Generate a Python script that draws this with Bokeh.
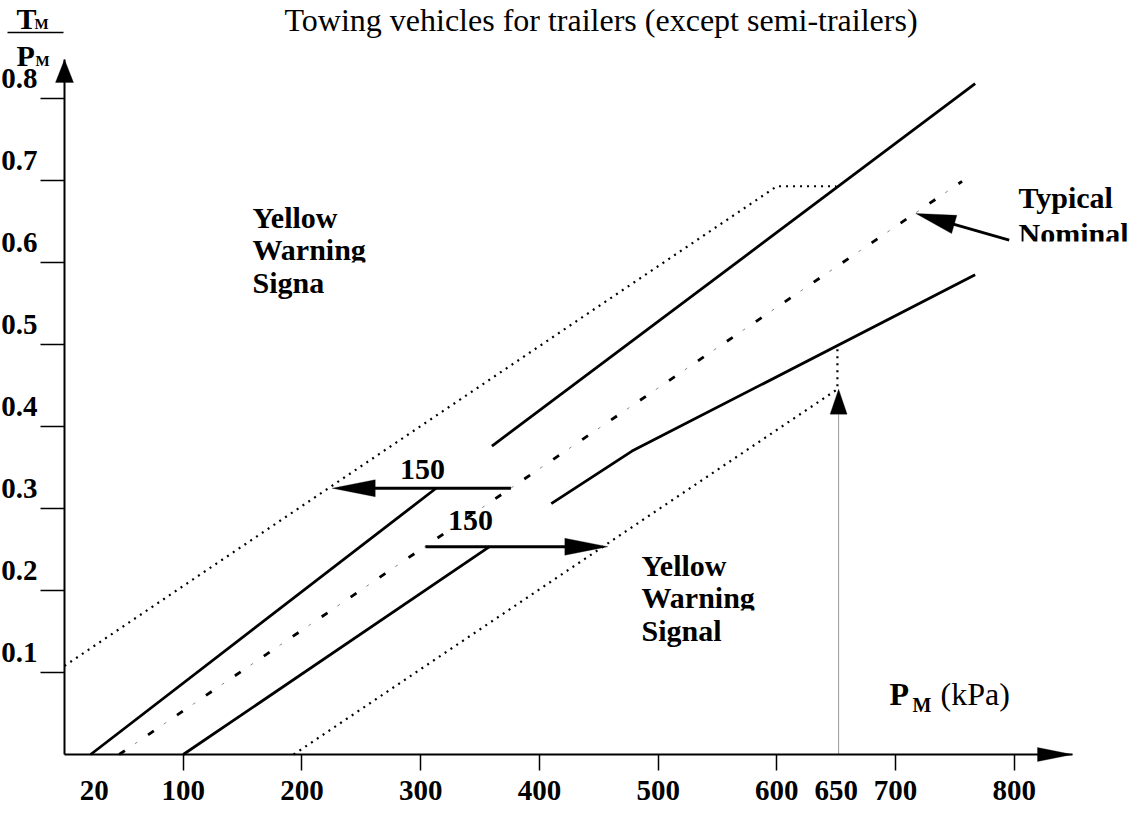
import math
from bokeh.plotting import figure
from bokeh.models import (Range1d, LinearAxis, FixedTicker, LabelSet,
                          ColumnDataSource, PolyAnnotation, BoxAnnotation, Arrow,
                          CustomLabelingPolicy)
from bokeh.core.properties import value
from bokeh.embed import file_html
from bokeh.resources import INLINE

# ---------------- data ----------------
x_ticks = [100, 200, 300, 400, 500, 600, 700, 800]
x_tick_labels = ["100", "200", "300", "400", "500", "600", "700", "800"]
x_extra_at = [25, 650]
x_extra_labels = ["20", "650"]
y_ticks = [0.1, 0.2, 0.3, 0.4, 0.5, 0.6, 0.7, 0.8]
y_label_texts = ["0.1", "0.2", "0.3", "0.4", "0.5", "0.6", "0.7", "0.8"]

upper_warn_x = [0, 600, 650]
upper_warn_y = [0.108, 0.693, 0.693]
upper_limit_a_x = [22, 313]
upper_limit_a_y = [0.0, 0.3247]
upper_limit_b_x = [360, 767]
upper_limit_b_y = [0.376, 0.818]
nominal_x = [46, 756]
nominal_y = [0.0, 0.699]
lower_limit_a_x = [100, 358]
lower_limit_a_y = [0.0, 0.2534]
lower_limit_b_x = [410, 478, 767]
lower_limit_b_y = [0.306, 0.370, 0.585]
lower_warn_x = [193, 651, 651]
lower_warn_y = [0.0, 0.4455, 0.499]

marker_x = 652
marker_top = 0.4455

shift_y = [0.3247, 0.2534]
shift_from = [376, 304]
shift_to = [225.5, 457.6]
shift_text = ["150", "150"]

nominal_arrow_tail = (795.7, 0.6272)
nominal_arrow_tip = (717.0, 0.6598)

title_text = "Towing vehicles for trailers (except semi-trailers)"

# ---------------- layout ----------------
W, H = 1130, 805
AX_X_END = 849.0          # x-axis arrow tip (kPa)
AX_Y_END = 0.84756        # y-axis arrow tip
KX = 1008.0 / AX_X_END    # px per kPa
KY = 820.0                # px per unit ratio
PX0, PY0 = 72.0, 762.0    # page position of the origin
XS, XE = (8 - PX0) / KX, (8 + W - PX0) / KX
YS, YE = (PY0 - 8 - H) / KY, (PY0 - 8) / KY


def dx(px):
    return (px - PX0) / KX


def dy(py):
    return (PY0 - py) / KY


def sx(v):
    return PX0 + v * KX


def sy(v):
    return PY0 - v * KY


p = figure(width=W, height=H, x_range=Range1d(XS, XE), y_range=Range1d(YS, YE),
           x_axis_type=None, y_axis_type=None, output_backend="svg",
           toolbar_location=None, min_border=0)
p.outline_line_color = None
p.background_fill_color = "white"
p.border_fill_color = "white"

FONT = "Liberation Serif"
no_labels = CustomLabelingPolicy(code="return []")

xax = LinearAxis(fixed_location=0, bounds=(0, AX_X_END), ticker=FixedTicker(ticks=x_ticks),
                 major_label_overrides=dict(zip(x_ticks, x_tick_labels)),
                 major_tick_out=16, major_tick_in=0, minor_tick_out=0, minor_tick_in=0,
                 major_label_standoff=10, major_label_text_font=FONT,
                 major_label_text_font_style="bold", major_label_text_font_size="29px",
                 major_label_text_color="black",
                 axis_line_width=2, axis_line_color="black",
                 major_tick_line_width=1.5, major_tick_line_color="black")
p.add_layout(xax, "below")
xax2 = LinearAxis(fixed_location=0, ticker=FixedTicker(ticks=x_extra_at),
                  major_label_overrides=dict(zip(x_extra_at, x_extra_labels)),
                  major_tick_out=16, major_tick_in=0, minor_tick_out=0, minor_tick_in=0,
                  major_label_standoff=10, major_label_text_font=FONT,
                  major_label_text_font_style="bold", major_label_text_font_size="29px",
                  major_label_text_color="black", axis_line_color=None,
                  major_tick_line_color=None)
p.add_layout(xax2, "below")
yax = LinearAxis(fixed_location=0, bounds=(0, AX_Y_END), ticker=FixedTicker(ticks=y_ticks),
                 major_label_policy=no_labels,
                 major_tick_out=24, major_tick_in=0, minor_tick_out=0, minor_tick_in=0,
                 axis_line_width=2, axis_line_color="black",
                 major_tick_line_width=1.5, major_tick_line_color="black")
p.add_layout(yax, "left")

# y tick labels (sit above their ticks in the original)
p.add_layout(LabelSet(x="x", y="y", text="text",
                      source=ColumnDataSource(dict(x=[0] * len(y_ticks), y=y_ticks,
                                                   text=y_label_texts)),
                      x_offset=-27, y_offset=11, text_align="right", text_baseline="alphabetic",
                      text_font=value(FONT), text_font_style="bold", text_font_size="29px",
                      text_color="black"))

# lines
solid = dict(line_color="black", line_width=2.8)
dotted = dict(line_color="black", line_width=2.2, line_dash="2 5")
p.line(upper_warn_x, upper_warn_y, **dotted)
p.line(lower_warn_x, lower_warn_y, **dotted)
p.line(upper_limit_a_x, upper_limit_a_y, **solid)
p.line(upper_limit_b_x, upper_limit_b_y, **solid)
p.line(lower_limit_a_x, lower_limit_a_y, **solid)
p.line(lower_limit_b_x, lower_limit_b_y, **solid)
p.line(nominal_x, nominal_y, line_color="black", line_width=2.8, line_dash="7 28")
p.line(nominal_x, nominal_y, line_color="#888888", line_width=1, line_dash="3 32",
       line_dash_offset=16)


def head(tip, tail, length, half):
    tx, ty = sx(tip[0]), sy(tip[1])
    ux, uy = sx(tail[0]) - tx, sy(tail[1]) - ty
    n = math.hypot(ux, uy)
    ux, uy = ux / n, uy / n
    bx, by = tx + ux * length, ty + uy * length
    nx, ny = -uy, ux
    pts = [(tx, ty), (bx + nx * half, by + ny * half), (bx - nx * half, by - ny * half)]
    p.add_layout(PolyAnnotation(xs=[dx(a) for a, b in pts], ys=[dy(b) for a, b in pts],
                                fill_color="black", fill_alpha=1.0, line_color="black",
                                line_width=1))
    return dx(bx), dy(by)


# 150 shift arrows
for yv, x0, x1 in zip(shift_y, shift_from, shift_to):
    bxv, byv = head((x1, yv), (x0, yv), 43, 8.5)
    mid = (bxv + x1) / 2
    p.line([x0, mid], [yv, yv], line_color="black", line_width=3)

# vertical marker arrow at 650 kPa
bxv, byv = head((marker_x, marker_top), (marker_x, 0), 25, 8.5)
p.line([marker_x, marker_x], [0, byv], line_color="#333333", line_width=1, line_dash="1 1")

# typical nominal arrow
bxv, byv = head(nominal_arrow_tip, nominal_arrow_tail, 40, 9.5)
p.line([nominal_arrow_tail[0], (bxv + nominal_arrow_tip[0]) / 2],
       [nominal_arrow_tail[1], (byv + nominal_arrow_tip[1]) / 2],
       line_color="black", line_width=2.8)

# axis arrowheads
head((0, AX_Y_END), (0, 0), 23, 9)
head((AX_X_END, 0), (0, 0), 35, 7)


def lab(px, py, text, size=30, style="bold", align="left"):
    src = ColumnDataSource(dict(x=[dx(px)], y=[dy(py)], text=[text]))
    p.add_layout(LabelSet(x="x", y="y", text="text", source=src, text_font=value(FONT),
                          text_font_style=style, text_font_size=f"{size}px",
                          text_align=align, text_baseline="alphabetic", text_color="black"))


# shift labels ("150")
lab(430, sy(shift_y[0]) - 9, shift_text[0], 30, "bold", "center")
lab(478, sy(shift_y[1]) - 17, shift_text[1], 30, "bold", "center")

# annotations
for i, t in enumerate(["Yellow", "Warning", "Signa"]):
    lab(260, 235 + 32.5 * i, t)
for i, t in enumerate(["Yellow", "Warning", "Signal"]):
    lab(649, 583 + 32.5 * i, t)
lab(1026, 215, "Typical")
lab(1026, 251, "Nominal")

# clipped text bottoms as in the original
for l, r, t, b in [(1020, 1146, 249, 262), (255, 392, 270, 279), (644, 782, 618, 627)]:
    p.add_layout(BoxAnnotation(left=dx(l), right=dx(r), top=dy(t), bottom=dy(b),
                               fill_color="white", fill_alpha=1.0, line_color=None))

# x axis caption
lab(897, 712, "P", 32)
lab(920, 719, "M", 20)
lab(948, 712, "(kPa)", 32, "normal")

# y axis caption
lab(24, 36, "T", 30)
lab(42, 36, "M", 15)
lab(24, 73, "P", 30)
lab(43, 73, "M", 15)
p.add_layout(Arrow(end=None, x_start=dx(15), y_start=dy(40), x_end=dx(71), y_end=dy(40),
                   line_color="black", line_width=1.5))

# title
lab(292, 38, title_text, 32, "normal", "left")

open("out.html", "w").write(file_html(p, INLINE))
